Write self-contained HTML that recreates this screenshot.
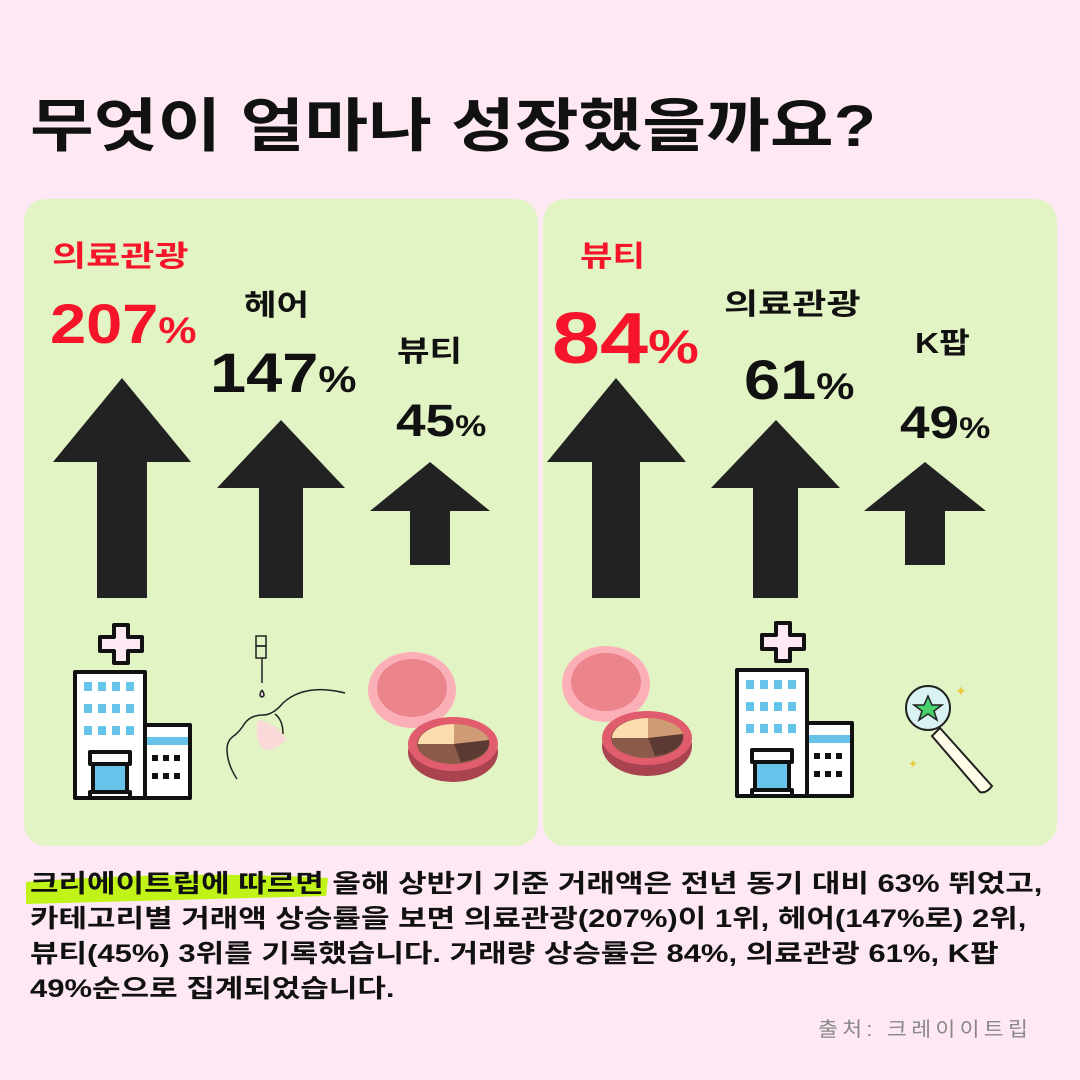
<!DOCTYPE html>
<html><head><meta charset="utf-8"><style>
body{margin:0;width:1080px;height:1080px;background:#fde8f3;position:relative;overflow:hidden;font-family:"Liberation Sans","Noto Sans CJK KR","NanumGothic",sans-serif;}
.t{position:absolute;font-weight:bold;white-space:nowrap;line-height:1;transform-origin:0 0;}
.r{color:#f5142a}.k{color:#111}
.p{font-size:0.66em}
.panel{position:absolute;top:199px;width:514px;height:647px;background:#e2f3c4;border-radius:22px}
svg{position:absolute;left:0;top:0}
</style></head><body>
<div class="t k" style="left:30px;top:98px;font-size:58px;transform:scaleX(1.195)">무엇이 얼마나 성장했을까요?</div>
<div class="panel" style="left:24px"></div>
<div class="panel" style="left:543px"></div>
<svg width="1080" height="1080">
<g fill="#222">
<polygon points="122,378 191,462 147,462 147,598 97,598 97,462 53,462"/>
<polygon points="281,420 345,488 303,488 303,598 259,598 259,488 217,488"/>
<polygon points="430,462 490,511 450,511 450,565 410,565 410,511 370,511"/>
<polygon points="616,378 686,462 640,462 640,598 592,598 592,462 547,462"/>
<polygon points="776,420 840,488 798,488 798,598 753,598 753,488 711,488"/>
<polygon points="925,462 986,511 945,511 945,565 905,565 905,511 864,511"/>
</g>
<g id="hos" stroke="#111" stroke-width="4" stroke-linejoin="round">
<path d="M100,637h14v-12h14v12h14v14h-14v12h-14v-12h-14z" fill="#fde8f3"/>
<rect x="75" y="672" width="70" height="126" fill="#fff"/>
<rect x="145" y="725" width="45" height="73" fill="#fff"/>
<rect x="90" y="752" width="40" height="12" fill="#fff"/>
<rect x="93" y="764" width="34" height="28" fill="#66c3ea"/>
<rect x="90" y="792" width="40" height="6" fill="#fff"/>
</g>
<g id="hd">
<g fill="#66c3ea">
<rect x="84" y="682" width="8" height="9"/><rect x="98" y="682" width="8" height="9"/><rect x="112" y="682" width="8" height="9"/><rect x="126" y="682" width="8" height="9"/>
<rect x="84" y="704" width="8" height="9"/><rect x="98" y="704" width="8" height="9"/><rect x="112" y="704" width="8" height="9"/><rect x="126" y="704" width="8" height="9"/>
<rect x="84" y="726" width="8" height="9"/><rect x="98" y="726" width="8" height="9"/><rect x="112" y="726" width="8" height="9"/><rect x="126" y="726" width="8" height="9"/>
<rect x="147" y="737" width="41" height="8"/></g>
<g fill="#111"><rect x="152" y="755" width="6" height="6"/><rect x="163" y="755" width="6" height="6"/><rect x="174" y="755" width="6" height="6"/><rect x="152" y="773" width="6" height="6"/><rect x="163" y="773" width="6" height="6"/><rect x="174" y="773" width="6" height="6"/></g>
</g>
<use href="#hos" x="662" y="-2"/>
<use href="#hd" x="662" y="-2"/>
<g fill="none" stroke="#222" stroke-width="1.5">
<rect x="256" y="636" width="10" height="10"/><rect x="256" y="646" width="10" height="12"/>
<line x1="262" y1="658" x2="262" y2="683"/>
<path d="M262,690 q-4,6 0,7 q4,-1 0,-7" fill="#e6c8e8"/>
<path d="M345,693 q-40,-10 -62,10 q-10,12 -20,12 q-12,0 -18,8 q-5,8 -10,12 q-8,5 -8,14 q0,15 10,30"/>
<path d="M275,714 q8,6 8,20"/>
</g>
<path d="M258,720 q22,5 28,20 q-10,10 -22,10 q-10,-10 -6,-30z" fill="#fcd9d9"/>
<g id="cmp">
<ellipse cx="412" cy="690" rx="44" ry="38" fill="#fbb0b8"/>
<ellipse cx="412" cy="688" rx="35" ry="29" fill="#ec848c"/>
<ellipse cx="453" cy="752" rx="45" ry="30" fill="#a8434f"/>
<ellipse cx="453" cy="744" rx="45" ry="27" fill="#e15c6d"/>
<ellipse cx="453" cy="744" rx="36" ry="20" fill="#8b5a49"/>
<path d="M418,744 a36,20 0 0 1 36,-20 l0,20z" fill="#fddcb0"/>
<path d="M454,724 a36,20 0 0 1 35,16 l-35,4z" fill="#cf9c76"/>
<path d="M489,740 a36,20 0 0 1 -28,22 l-7,-18z" fill="#5a3a32"/>
</g>
<use href="#cmp" x="194" y="-6"/>
<g stroke="#222" stroke-width="2">
<circle cx="928" cy="708" r="22" fill="#d9f3f2"/>
<path d="M940,728 l52,58 q-6,8 -12,6 l-48,-56z" fill="#fffde8"/>
<polygon points="928,696 932,705 942,705 934,711 937,720 928,714 919,720 922,711 914,705 924,705" fill="#47d16a" stroke-width="1.5"/>
</g>
<text x="955" y="696" font-size="14" fill="#e8c93a">✦</text>
<text x="908" y="768" font-size="12" fill="#e8c93a">✦</text>
<path d="M26,882 q150,-12 302,-4 l-2,18 q-150,4 -300,8z" fill="#b9f500" opacity="0.9"/>
</svg>
<div class="t r" style="left:52px;top:243px;font-size:29px;transform:scaleX(1.28)">의료관광</div>
<div class="t r" style="left:50px;top:296px;font-size:56px;transform:scaleX(1.16)">207<span class="p">%</span></div>
<div class="t k" style="left:244px;top:292px;font-size:29px;transform:scaleX(1.22)">헤어</div>
<div class="t k" style="left:210px;top:345px;font-size:56px;transform:scaleX(1.16)">147<span class="p">%</span></div>
<div class="t k" style="left:397px;top:338px;font-size:29px;transform:scaleX(1.22)">뷰티</div>
<div class="t k" style="left:396px;top:398px;font-size:45px;transform:scaleX(1.18)">45<span class="p">%</span></div>
<div class="t r" style="left:580px;top:243px;font-size:29px;transform:scaleX(1.22)">뷰티</div>
<div class="t r" style="left:552px;top:303px;font-size:72px;transform:scaleX(1.2)">84<span class="p">%</span></div>
<div class="t k" style="left:724px;top:291px;font-size:29px;transform:scaleX(1.28)">의료관광</div>
<div class="t k" style="left:744px;top:352px;font-size:56px;transform:scaleX(1.16)">61<span class="p">%</span></div>
<div class="t k" style="left:915px;top:330px;font-size:29px;transform:scaleX(1.15)">K팝</div>
<div class="t k" style="left:900px;top:400px;font-size:45px;transform:scaleX(1.18)">49<span class="p">%</span></div>
<div class="t k" style="left:30px;top:867px;font-size:25px;line-height:35px;font-weight:bold;transform:scaleX(1.24)">크리에이트립에 따르면 올해 상반기 기준 거래액은 전년 동기 대비 63% 뛰었고,<br>카테고리별 거래액 상승률을 보면 의료관광(207%)이 1위, 헤어(147%로) 2위,<br>뷰티(45%) 3위를 기록했습니다. 거래량 상승률은 84%, 의료관광 61%, K팝<br>49%순으로 집계되었습니다.</div>
<div class="t" style="left:818px;top:1020px;font-size:20px;color:#888;font-weight:normal;letter-spacing:4px;transform:scaleX(1.08)">출처: 크레이이트립</div>
</body></html>
